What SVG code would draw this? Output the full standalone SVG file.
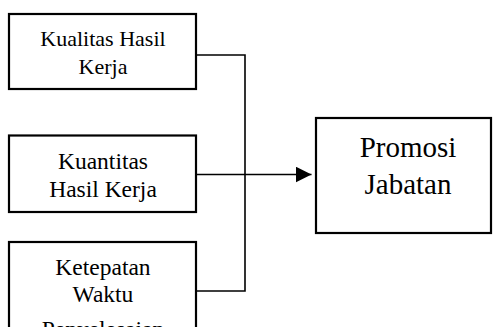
<svg xmlns="http://www.w3.org/2000/svg" width="495" height="327" viewBox="0 0 495 327">
  <style>
    .box { fill: #ffffff; stroke: #000000; stroke-width: 2.2; }
    .conn { fill: none; stroke: #000000; stroke-width: 1.6; }
    text { font-family: "Liberation Serif", "Times New Roman", serif; fill: #000000; text-anchor: middle; }
  </style>
  <defs>
    <marker id="arrow" markerUnits="userSpaceOnUse" markerWidth="18" markerHeight="18" refX="16" refY="8" orient="auto">
      <path d="M0,0 L16,8 L0,16 Z" fill="#000000"/>
    </marker>
  </defs>
  <rect width="495" height="327" fill="#ffffff"/>
  <g id="connectors">
    <path class="conn" d="M196,55 H245 V291 H196"/>
    <path class="conn" d="M196,174.5 H311.5" marker-end="url(#arrow)"/>
  </g>
  <g id="kualitas">
    <rect class="box" x="9" y="14" width="187" height="75"/>
    <text x="103" y="46" font-size="22">Kualitas Hasil</text>
    <text x="103" y="74" font-size="22">Kerja</text>
  </g>
  <g id="kuantitas">
    <rect class="box" x="9" y="135.5" width="187" height="76.5"/>
    <text x="103" y="169" font-size="23.5">Kuantitas</text>
    <text x="103" y="197" font-size="23.5">Hasil Kerja</text>
  </g>
  <g id="ketepatan">
    <rect class="box" x="9" y="242" width="187" height="100"/>
    <text x="103" y="275" font-size="23.5">Ketepatan</text>
    <text x="103" y="302" font-size="23.5">Waktu</text>
    <text x="103" y="337" font-size="23.5">Penyelesaian</text>
  </g>
  <g id="promosi">
    <rect class="box" x="316" y="118" width="175" height="115"/>
    <text x="408" y="157" font-size="29">Promosi</text>
    <text x="408" y="194" font-size="29">Jabatan</text>
  </g>
</svg>
